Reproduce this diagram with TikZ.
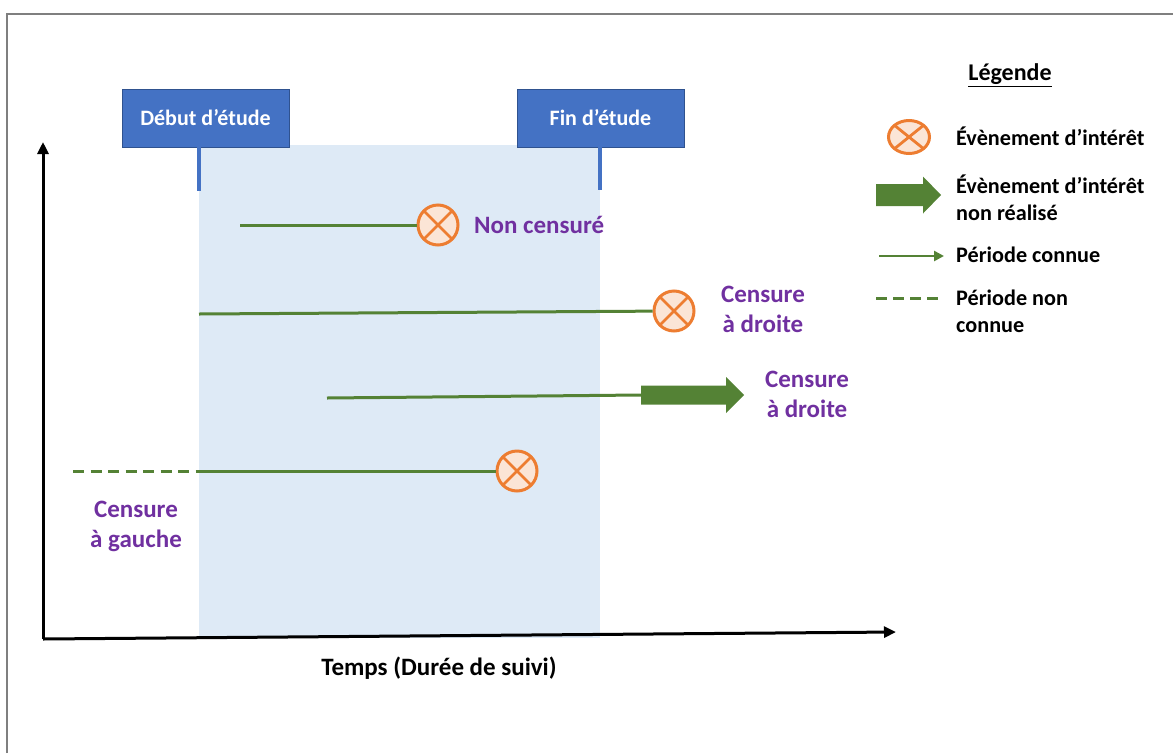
\documentclass[tikz,border=0pt]{standalone}
\usepackage{fontspec}
\setmainfont{Carlito}
\usetikzlibrary{arrows.meta,shapes.geometric}
\definecolor{dgreen}{HTML}{548235}
\definecolor{evorange}{HTML}{ED7D31}
\definecolor{evfill}{HTML}{FBE5D6}
\definecolor{boxblue}{HTML}{4472C4}
\definecolor{boxedge}{HTML}{2F528F}
\definecolor{shadeblue}{HTML}{DEEAF6}
\definecolor{labpurple}{HTML}{7030A0}
\definecolor{framegray}{HTML}{7F7F7F}
\begin{document}
\begin{tikzpicture}[x=1pt,y=-1pt,
  crossmark/.style={draw=evorange, fill=evfill, line width=3pt, inner sep=0pt,
    path picture={\draw[evorange,line width=2.8pt]
      (path picture bounding box.north west) -- (path picture bounding box.south east)
      (path picture bounding box.north east) -- (path picture bounding box.south west);}},
  event/.style={crossmark, circle, minimum size=40pt},
  legevent/.style={crossmark, ellipse, minimum width=41pt, minimum height=33pt},
  known/.style={draw=dgreen, line width=3pt},
  unknown/.style={draw=dgreen, line width=3pt, dash pattern=on 11pt off 6.5pt},
  studybox/.style={draw=boxedge, line width=0.8pt, fill=boxblue, text=white,
    minimum width=167pt, minimum height=58pt, inner sep=0pt, font=\bfseries\fontsize{22}{26}\selectfont},
  studytick/.style={draw=boxblue, line width=4pt},
  lab/.style={text=labpurple, align=center, inner sep=0pt, font=\bfseries\fontsize{25}{30}\selectfont},
  legtext/.style={anchor=west, align=left, inner sep=0pt, font=\bfseries\fontsize{22.2}{27}\selectfont},
  axis/.style={draw=black, line width=3pt, -{Triangle[length=12pt,width=11pt]}},
]
\useasboundingbox (0,0) rectangle (1173,753);
% frame
\draw[framegray, line width=2pt] (7,753) -- (7,13.5) -- (1173,13.5);
% study period shading
\fill[shadeblue] (199,145) rectangle (600,638);
% study boxes and ticks
\node[studybox] (deb) at (205.5,118) {Début d’étude};
\node[studybox] (fin) at (600.5,118) {Fin d’étude};
\coordinate (debt) at (199,147);
\coordinate (debb) at (199,191);
\coordinate (fint) at (600,147);
\coordinate (finb) at (600,190);
\draw[studytick] (debt) -- (debb);
\draw[studytick] (fint) -- (finb);
% row 1
\coordinate (s1) at (240,225);
\node[event] (e1) at (438,225) {};
\draw[known] (s1) -- (e1);
\node[lab, anchor=west] (l1) at (474,225) {Non censuré};
% row 2
\coordinate (s2) at (199,314);
\node[event] (e2) at (674,311) {};
\draw[known] (s2) -- (e2);
\node[lab] (l2) at (763,309) {Censure\\à droite};
% row 3
\coordinate (s3) at (327,398);
\coordinate (a3) at (641,395);
\draw[known] (s3) -- (a3);
\fill[dgreen] (a3) ++(0,-9.5) -- ++(85,0) -- ++(0,-8.5) -- ++(18,18) -- ++(-18,18) -- ++(0,-8.5) -- ++(-85,0) -- cycle;
\node[lab] (l3) at (807,394) {Censure\\à droite};
% row 4
\coordinate (s4) at (73,471);
\coordinate (m4) at (199,471);
\node[event] (e4) at (517,471) {};
\draw[unknown] (s4) -- (m4);
\draw[known] (m4) -- (e4);
\node[lab] (l4) at (136,526) {Censure\\à gauche};
% axes
\coordinate (o) at (43,639);
\coordinate (yt) at (43,142);
\coordinate (xt) at (896,632);
\draw[axis] (o) -- (yt);
\draw[axis] (o) -- (xt);
\node[font=\bfseries\fontsize{25}{30}\selectfont, inner sep=0pt] (xl) at (439,668) {Temps (Durée de suivi)};
% legend
\node[font=\bfseries\fontsize{24}{28}\selectfont, inner sep=0pt] (lt) at (1010,75) {\underline{Légende}};
\node[legevent] (le1) at (909,137) {};
\node[legtext] (lx1) at (956,136) {Évènement d’intérêt};
\coordinate (la2) at (876,195);
\fill[dgreen] (la2) ++(0,-11) -- ++(47,0) -- ++(0,-7.5) -- ++(18,18.5) -- ++(-18,18.5) -- ++(0,-7.5) -- ++(-47,0) -- cycle;
\node[legtext] (lx2) at (956,198) {Évènement d’intérêt\\non réalisé};
\coordinate (lk1) at (879,256);
\coordinate (lk2) at (944,256);
\draw[known, line width=2.5pt, -{Triangle[length=10pt,width=10pt]}] (lk1) -- (lk2);
\node[legtext] (lx3) at (956,255) {Période connue};
\coordinate (lu1) at (876,298);
\coordinate (lu2) at (938,298);
\draw[unknown, dash pattern=on 11pt off 6pt] (lu1) -- (lu2);
\node[legtext] (lx4) at (956,311) {Période non\\connue};
\end{tikzpicture}
\end{document}
